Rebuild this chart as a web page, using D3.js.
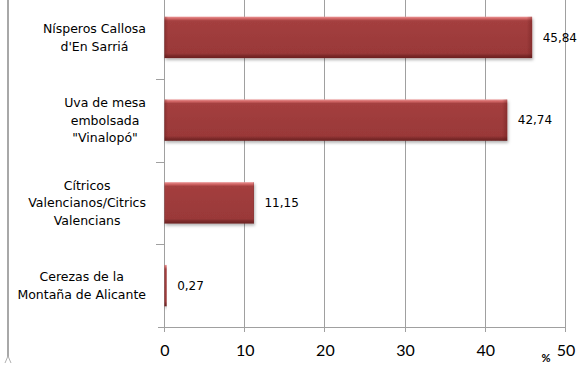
<!DOCTYPE html>
<html><head><meta charset="utf-8">
<script src="https://cdn.jsdelivr.net/npm/d3@7"></script>
<style>html,body{margin:0;padding:0;background:#fff;}svg{display:block;}</style>
</head><body>
<svg id="c" width="583" height="365"></svg>
<script>
const categories = [
  ["Nísperos Callosa", "d'En Sarriá"],
  ["Uva de mesa", "embolsada", "\"Vinalopó\""],
  ["Cítricos", "Valencianos/Citrics", "Valencians"],
  ["Cerezas de la", "Montaña de Alicante"]
];
const values = [45.84, 42.74, 11.15, 0.27];
const valueLabels = ["45,84", "42,74", "11,15", "0,27"];
const xTicks = [0, 10, 20, 30, 40, 50];
const axisUnit = "%";

const svg = d3.select("#c");
const keys = categories.map((c, i) => i);
const x = d3.scaleLinear().domain([0, 50]).range([164, 565]);
const y = d3.scaleBand().domain(keys).range([-4, 327]).paddingInner(0.5).paddingOuter(0.25);

const defs = svg.append("defs");
const g = defs.append("linearGradient").attr("id", "bg").attr("x1", 0).attr("y1", 0).attr("x2", 0).attr("y2", 1);
[[0, "#eb9494"], [0.05, "#cf6464"], [0.1, "#a43f3f"], [0.5, "#9e3b3b"], [0.88, "#9a3939"], [0.94, "#7e2b2b"], [1, "#6a2222"]]
  .forEach(([o, c]) => g.append("stop").attr("offset", o).attr("stop-color", c));
const gh = defs.append("linearGradient").attr("id", "bh").attr("x1", 0).attr("y1", 0).attr("x2", 1).attr("y2", 0);
[[0, "rgba(90,20,20,0.35)"], [0.01, "rgba(90,20,20,0)"], [0.985, "rgba(90,20,20,0)"], [1, "rgba(90,20,20,0.35)"]]
  .forEach(([o, c]) => gh.append("stop").attr("offset", o).attr("stop-color", c));
const f = defs.append("filter").attr("id", "sh").attr("x", "-5%").attr("y", "-20%").attr("width", "115%").attr("height", "150%");
f.append("feDropShadow").attr("dx", 1).attr("dy", 2).attr("stdDeviation", 1.5).attr("flood-color", "#000").attr("flood-opacity", 0.3);

// chart-area left border
svg.append("line").attr("x1", 8).attr("x2", 8).attr("y1", 0).attr("y2", 357)
  .attr("stroke", "#a8a8a8").attr("stroke-width", 2);
svg.append("path").attr("d", "M8,356 L5,363 M8,356 L11,363").attr("stroke", "#b0b0b0").attr("fill", "none").attr("stroke-width", 1);

// gridlines + bottom ticks
const gridColor = "#a0a0a0";
svg.append("g").selectAll("line").data(xTicks).join("line")
  .attr("x1", d => Math.round(x(d)) + 0.5).attr("x2", d => Math.round(x(d)) + 0.5)
  .attr("y1", 0).attr("y2", 332)
  .attr("stroke", gridColor).attr("stroke-width", 1);

// x axis line
svg.append("line").attr("x1", 158).attr("x2", x(50) + 1).attr("y1", 327.5).attr("y2", 327.5)
  .attr("stroke", gridColor).attr("stroke-width", 1);

// y category boundary ticks
const bounds = keys.slice(1).map(k => y(k) - y.step() * y.paddingInner() / 2);
svg.append("g").selectAll("line").data(bounds).join("line")
  .attr("x1", 156).attr("x2", 164)
  .attr("y1", d => Math.round(d) + 0.5).attr("y2", d => Math.round(d) + 0.5)
  .attr("stroke", gridColor);

// bars
const bars = svg.append("g").selectAll("g").data(keys).join("g");
bars.append("rect")
  .attr("x", x(0) + 0.5).attr("y", k => y(k))
  .attr("width", k => Math.max(1.5, x(values[k]) - x(0)))
  .attr("height", y.bandwidth())
  .attr("fill", "url(#bg)").attr("filter", "url(#sh)");
bars.append("rect")
  .attr("x", x(0) + 0.5).attr("y", k => y(k))
  .attr("width", k => Math.max(1.5, x(values[k]) - x(0)))
  .attr("height", y.bandwidth())
  .attr("fill", "url(#bh)");

// value labels
svg.append("g").selectAll("text").data(keys).join("text")
  .attr("x", k => x(values[k]) + 11)
  .attr("y", k => y(k) + y.bandwidth() / 2)
  .attr("dy", "0.35em")
  .attr("font-family", "DejaVu Sans, Verdana, sans-serif").attr("font-size", 12)
  .attr("fill", "#000")
  .text(k => valueLabels[k]);

// category labels: block right-aligned at 146, lines centered within block
const lineH = 17.5;
keys.forEach(k => {
  const lines = categories[k];
  const grp = svg.append("g");
  const cy = y(k) + y.bandwidth() / 2;
  const ts = grp.selectAll("text").data(lines).join("text")
    .attr("font-family", "DejaVu Sans, Verdana, sans-serif").attr("font-size", 12.5)
    .attr("fill", "#000").attr("text-anchor", "middle")
    .attr("y", (d, i) => cy + (i - (lines.length - 1) / 2) * lineH)
    .attr("dy", "0.35em")
    .text(d => d);
  let maxW = 0;
  ts.each(function () { maxW = Math.max(maxW, this.getComputedTextLength()); });
  ts.attr("x", 146 - maxW / 2);
});

// x tick labels
svg.append("g").selectAll("text").data(xTicks).join("text")
  .attr("x", d => x(d) + 1).attr("y", 350).attr("dy", "0.35em")
  .attr("text-anchor", "middle")
  .attr("font-family", "Lato, 'Open Sans', sans-serif").attr("font-size", 16)
  .attr("fill", "#000")
  .text(d => d);

svg.append("text").attr("x", 546).attr("y", 362).attr("text-anchor", "middle")
  .attr("font-family", "Lato, sans-serif").attr("font-size", 11).attr("font-weight", "bold")
  .text(axisUnit);
</script>
</body></html>
